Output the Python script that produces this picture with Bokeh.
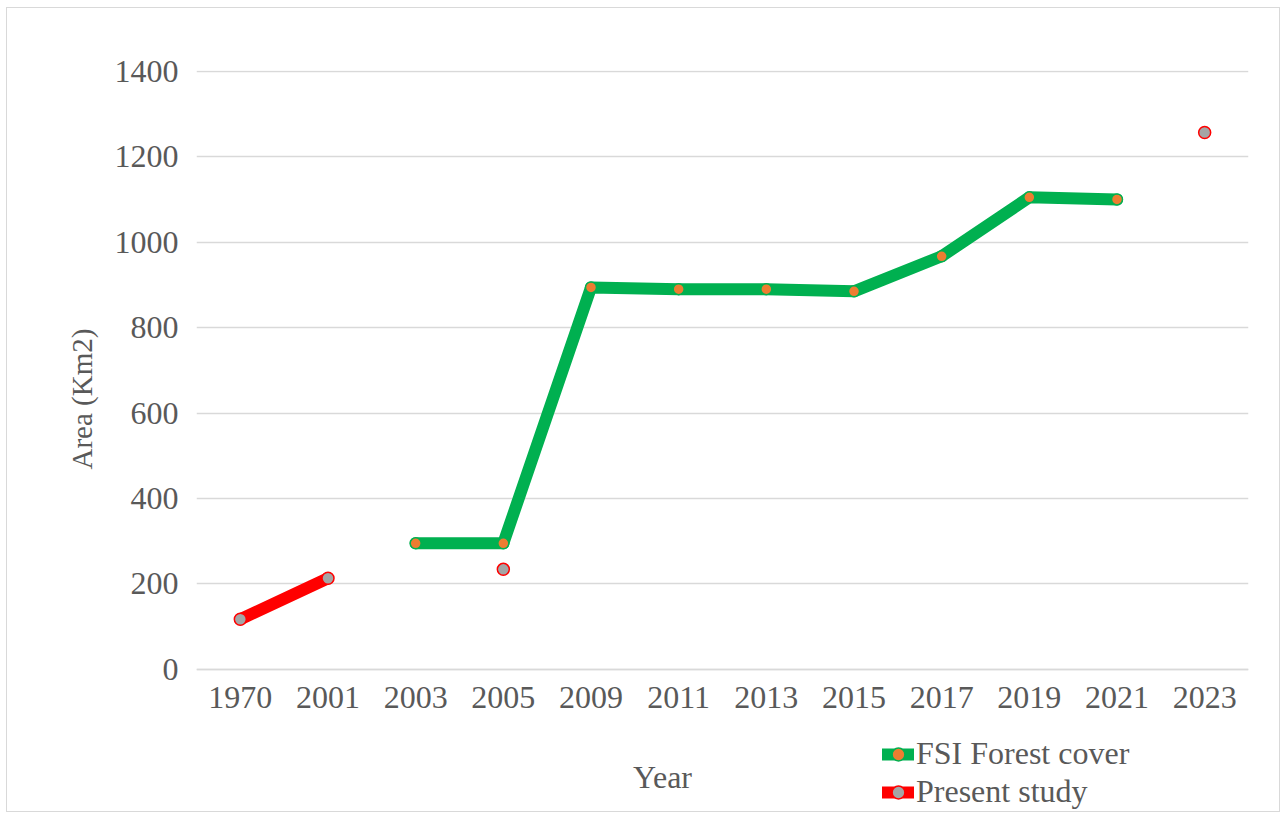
import numpy as np
from bokeh.plotting import figure
from bokeh.models import ColumnDataSource, Legend, LegendItem, Label, Range1d, FixedTicker, Title
from bokeh.embed import file_html
from bokeh.resources import INLINE

years = ["1970", "2001", "2003", "2005", "2009", "2011", "2013", "2015", "2017", "2019", "2021", "2023"]
fsi_forest_cover = [np.nan, np.nan, 295, 295, 894, 890, 890, 885, 967, 1105, 1100, np.nan]
present_study = [117, 213, np.nan, 234, np.nan, np.nan, np.nan, np.nan, np.nan, np.nan, np.nan, 1257]
y_ticks = [0, 200, 400, 600, 800, 1000, 1200, 1400]

FONT = "Liberation Serif"
TXT = "#595959"

# the frame reaches down to the bottom so the legend and the "Year" title fit inside it;
# the x axis is pinned at y = 0
p = figure(x_range=years, y_range=Range1d(-333, 1402), width=1274, height=805,
           output_backend="svg", toolbar_location=None,
           min_border_left=189, min_border_right=33, min_border_top=62, min_border_bottom=2)
p.outline_line_color = None
p.styles = {"border": "1px solid #d9d9d9", "margin-left": "6px", "margin-top": "7px"}

src = ColumnDataSource(dict(x=years, fsi=fsi_forest_cover, ps=present_study))

g_line = p.line("x", "fsi", source=src, line_color="#00B050", line_width=12, line_join="round", line_cap="round")
g_pts = p.scatter("x", "fsi", source=src, size=11, fill_color="#ED7D31", line_color="#00B050", line_width=1.5)
r_line = p.line("x", "ps", source=src, line_color="#FF0000", line_width=12, line_join="round", line_cap="round")
r_pts = p.scatter("x", "ps", source=src, size=12, fill_color="#A5A5A5", line_color="#FF0000", line_width=1.5)

# axes
p.yaxis.ticker = FixedTicker(ticks=y_ticks)
for ax in (p.xaxis[0], p.yaxis[0]):
    ax.major_label_text_font = FONT
    ax.major_label_text_font_size = "32px"
    ax.major_label_text_color = TXT
    ax.major_tick_line_color = None
    ax.minor_tick_line_color = None
p.yaxis.axis_line_color = None
p.yaxis.major_label_standoff = 12
p.xaxis.fixed_location = 0
p.xaxis.axis_line_color = "#d9d9d9"
p.xaxis.axis_line_width = 1.5
p.xaxis.major_label_standoff = 12

# y axis title, centred on the 0-1400 part of the axis
p.add_layout(Title(text="Area (Km2)", align="left", offset=342, standoff=27,
                   text_font=FONT, text_font_size="29px", text_color=TXT,
                   text_font_style="normal"), "left")

p.xgrid.grid_line_color = None
p.ygrid.grid_line_color = "#d9d9d9"
p.ygrid.grid_line_width = 1.5

# x axis title placed as in the reference (left of the legend)
p.add_layout(Label(x=466, y=35, x_units="screen", y_units="screen", text="Year",
                   text_font=FONT, text_font_size="32px", text_color=TXT,
                   text_align="center", text_baseline="middle"))

legend = Legend(items=[LegendItem(label="FSI Forest cover", renderers=[g_line, g_pts]),
                       LegendItem(label="Present study", renderers=[r_line, r_pts])],
                location=(686, 1), orientation="vertical")
legend.label_text_font = FONT
legend.label_text_font_size = "32px"
legend.label_text_color = TXT
legend.border_line_color = None
legend.background_fill_alpha = 0
legend.glyph_width = 32
legend.glyph_height = 36
legend.label_standoff = 2
legend.spacing = 1
legend.padding = 0
legend.margin = 0
p.add_layout(legend, "center")

open("out.html", "w").write(file_html(p, INLINE))
